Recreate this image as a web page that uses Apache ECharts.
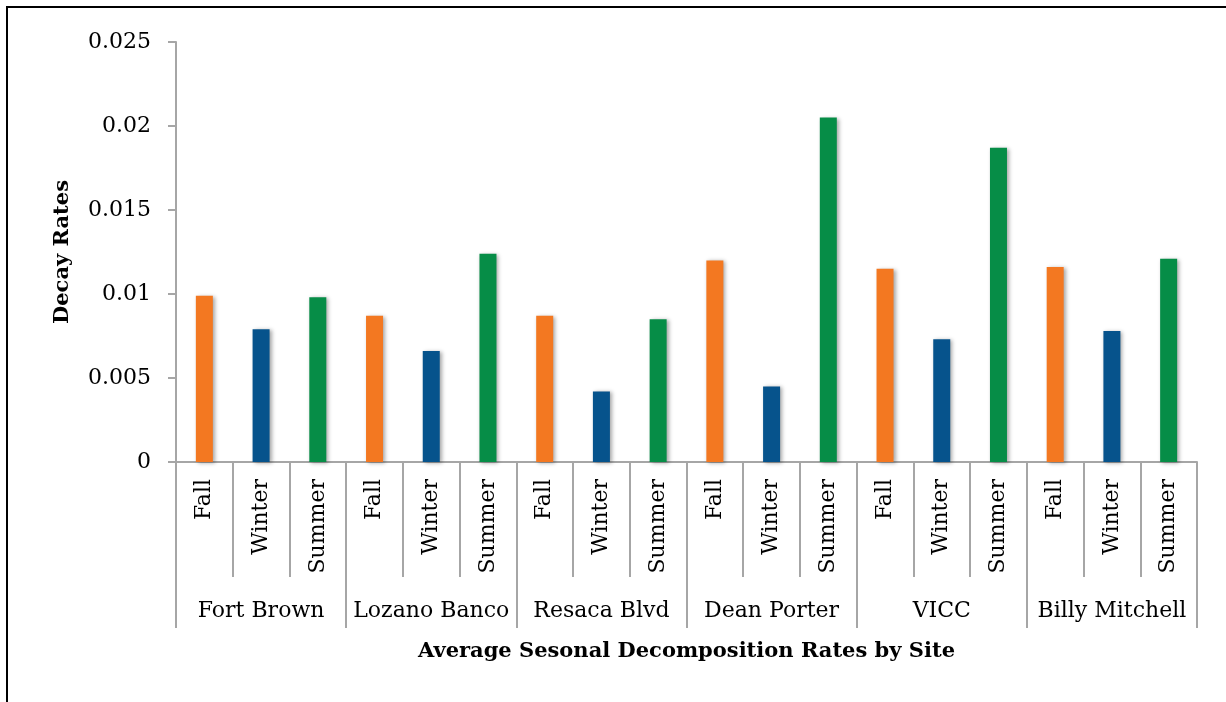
<!DOCTYPE html>
<html>
<head>
<meta charset="utf-8">
<title>Average Sesonal Decomposition Rates by Site</title>
<script src="https://cdn.jsdelivr.net/npm/echarts@6/dist/echarts.min.js"></script>
<style>
  html, body { margin: 0; padding: 0; background: #ffffff; }
  #chart { width: 1226px; height: 702px; }
</style>
</head>
<body>
<div id="chart"></div>
<script>
// Sites and seasons along the two-level category axis
const sites = ['Fort Brown', 'Lozano Banco', 'Resaca Blvd', 'Dean Porter', 'VICC', 'Billy Mitchell'];
const seasons = ['Fall', 'Winter', 'Summer'];

// Average decay rates per site, one array per season
const fallRates   = [0.0099, 0.0087, 0.0087, 0.0120, 0.0115, 0.0116];
const winterRates = [0.0079, 0.0066, 0.0042, 0.0045, 0.0073, 0.0078];
const summerRates = [0.0098, 0.0124, 0.0085, 0.0205, 0.0187, 0.0121];

// Y axis tick range
const yMin = 0;
const yMax = 0.025;
const yStep = 0.005;

const seasonColors = ['#F37821', '#06538C', '#068D47'];
const seasonRates = [fallRates, winterRates, summerRates];

// Flatten to one bar per site/season pair
const seasonCategories = [];
const barData = [];
sites.forEach(function (site, i) {
  seasons.forEach(function (season, j) {
    seasonCategories.push(season);
    barData.push({ value: seasonRates[j][i], itemStyle: { color: seasonColors[j] } });
  });
});

const serif = '"DejaVu Serif", "Liberation Serif", serif';
const axisGray = '#A6A6A6';

const gridLeft = 176;
const gridRight = 29;
const chartWidth = 1226;

const chart = echarts.init(document.getElementById('chart'), null, { renderer: 'canvas' });

chart.setOption({
  animation: false,
  backgroundColor: '#ffffff',
  textStyle: { fontFamily: serif },
  grid: { left: gridLeft, right: gridRight, top: 42, bottom: 240, containLabel: false },
  graphic: [
    {
      type: 'rect',
      shape: { x: 7, y: 7, width: 1240, height: 720 },
      style: { fill: 'none', stroke: '#000000', lineWidth: 2 },
      silent: true
    },
    {
      type: 'text',
      x: (gridLeft + chartWidth - gridRight) / 2,
      y: 652,
      style: {
        text: 'Average Sesonal Decomposition Rates by Site',
        font: 'bold 21px ' + serif,
        fill: '#000000',
        align: 'center',
        verticalAlign: 'middle'
      }
    }
  ],
  xAxis: [
    {
      type: 'category',
      position: 'bottom',
      data: seasonCategories,
      axisLine: { lineStyle: { color: axisGray, width: 2 } },
      axisTick: { show: true, interval: 0, length: 115, lineStyle: { color: axisGray, width: 2 } },
      axisLabel: {
        interval: 0,
        rotate: 90,
        margin: 17,
        color: '#000000',
        fontFamily: serif,
        fontSize: 22
      },
      splitLine: { show: false }
    },
    {
      type: 'category',
      position: 'bottom',
      offset: 115,
      data: sites,
      axisLine: { show: false },
      axisTick: { show: true, interval: 0, length: 51, lineStyle: { color: axisGray, width: 2 } },
      axisLabel: {
        interval: 0,
        margin: 23,
        color: '#000000',
        fontFamily: serif,
        fontSize: 22
      },
      splitLine: { show: false }
    }
  ],
  yAxis: {
    type: 'value',
    min: yMin,
    max: yMax,
    interval: yStep,
    name: 'Decay Rates',
    nameLocation: 'middle',
    nameRotate: 90,
    nameGap: 103,
    nameTextStyle: { fontFamily: serif, fontSize: 21, fontWeight: 'bold', color: '#000000' },
    axisLine: { show: true, lineStyle: { color: axisGray, width: 2 } },
    axisTick: { show: true, length: 8, lineStyle: { color: axisGray, width: 2 } },
    axisLabel: {
      margin: 25,
      color: '#000000',
      fontFamily: serif,
      fontSize: 22,
      formatter: function (v) { return String(+v.toFixed(3)); }
    },
    splitLine: { show: false }
  },
  series: [
    {
      type: 'bar',
      xAxisIndex: 0,
      data: barData,
      barWidth: 17,
      itemStyle: {
        shadowColor: 'rgba(0, 0, 0, 0.35)',
        shadowBlur: 4,
        shadowOffsetX: 2,
        shadowOffsetY: 1
      }
    }
  ]
});
</script>
</body>
</html>
